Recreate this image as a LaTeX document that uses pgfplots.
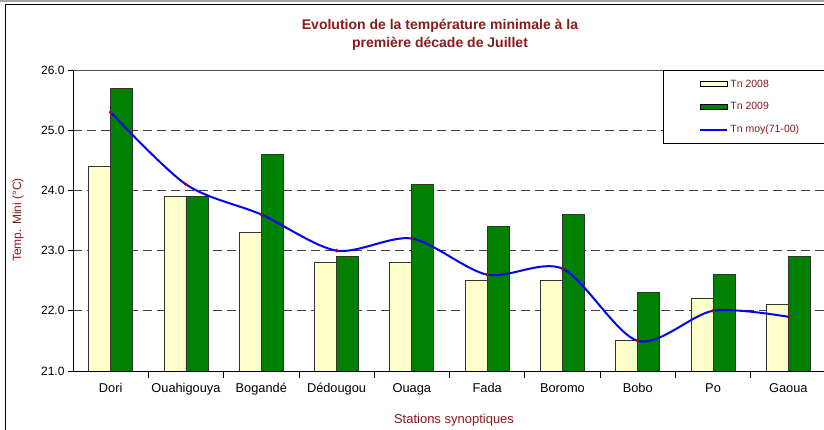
\documentclass[border=0pt]{standalone}
\usepackage{pgfplots}
\pgfplotsset{compat=1.18}
\usepackage{fontspec}
\setmainfont{Liberation Sans}
\definecolor{tdark}{HTML}{8B1A1A}
\definecolor{byellow}{HTML}{FFFFCC}
\definecolor{bgreen}{HTML}{008000}
\begin{document}
\begin{tikzpicture}[x=1pt,y=1pt]
\path[use as bounding box] (0,0) rectangle (824,430);
\clip (0,0) rectangle (824,430);
\fill[white] (0,0) rectangle (824,430);
\draw[gray!70, line width=3pt] (0,429.5) -- (824,429.5);
\draw[black, line width=1pt] (5,-5) rectangle (900,425);
\begin{axis}[
  at={(73pt,59pt)}, anchor=south west, scale only axis,
  width=753pt, height=301pt,
  xmin=-0.5, xmax=9.5, ymin=21, ymax=26,
  axis x line*=bottom, axis y line*=left,
  axis line style={black, line width=0.9pt, -},
  ytick={21,22,...,26},
  y tick label style={font=\fontsize{12}{13}\selectfont},
  yticklabel style={/pgf/number format/fixed, /pgf/number format/fixed zerofill, /pgf/number format/precision=1},
  /pgf/number format/assume math mode=true,
  xtick={0,...,9},
  xticklabels={Dori,Ouahigouya,Bogandé,Dédougou,Ouaga,Fada,Boromo,Bobo,Po,Gaoua},
  major x tick style={draw=none},
  minor xtick={0.5,1.5,...,8.5},
  minor x tick style={black, line width=0.8pt},
  minor tick length=7pt,
  x tick label style={font=\fontsize{12.8}{14}\selectfont, yshift=-4pt},
  ytick style={black, line width=0.8pt},
  major tick length=5pt,
  tick align=outside,
  xtick pos=bottom, ytick pos=left,
  ymajorgrids,
  grid style={black!75, dash pattern=on 9pt off 5pt, line width=0.8pt},
  legend style={at={(0.7835,1)}, anchor=north west, draw=black, fill=white,
    font=\fontsize{10.5}{12}\selectfont, text=tdark, inner xsep=36pt, inner ysep=7.5pt,
    row sep=9.8pt, line width=0.8pt},
  legend cell align=left,
  clip=true,
]
\addplot[ybar, bar width=22pt, bar shift=-11pt, fill=byellow, draw=black!80, line width=0.8pt,
  legend image code/.code={\draw[fill=byellow, draw=black, line width=0.8pt] (0pt,-2.5pt) rectangle (27pt,2.5pt);}]
  coordinates {(0,24.4) (1,23.9) (2,23.3) (3,22.8) (4,22.8) (5,22.5) (6,22.5) (7,21.5) (8,22.2) (9,22.1)};
\addlegendentry{Tn 2008}
\addplot[ybar, bar width=22pt, bar shift=11pt, fill=bgreen, draw=black!80, line width=0.8pt,
  legend image code/.code={\draw[fill=bgreen, draw=black, line width=0.8pt] (0pt,-2.5pt) rectangle (27pt,2.5pt);}]
  coordinates {(0,25.7) (1,23.9) (2,24.6) (3,22.9) (4,24.1) (5,23.4) (6,23.6) (7,22.3) (8,22.6) (9,22.9)};
\addlegendentry{Tn 2009}
\addplot[blue, line width=2pt, smooth, tension=0.5, mark=*, mark size=0.5pt,
  mark options={draw=red!70!black, fill=red!70!black},
  legend image code/.code={\draw[blue, line width=2pt] (0pt,0pt) -- (27pt,0pt);}]
  coordinates {(0,25.3) (1,24.1) (2,23.6) (3,23.0) (4,23.2) (5,22.6) (6,22.7) (7,21.5) (8,22.0) (9,21.9)};
\addlegendentry{Tn moy(71-00)}
\draw[black!70, line width=0.9pt] (rel axis cs:0,1) -- (rel axis cs:1,1);
\end{axis}
\node[font=\bfseries\fontsize{14}{18}\selectfont, text=tdark, align=center] at (440,395)
  {Evolution de la température minimale à la\\première décade de Juillet};
\node[font=\fontsize{12}{13}\selectfont, text=tdark, rotate=90] at (18,210) {Temp. Mini (°C)};
\node[font=\fontsize{13}{14}\selectfont, text=tdark] at (454,10) {Stations synoptiques};
\end{tikzpicture}
\end{document}
